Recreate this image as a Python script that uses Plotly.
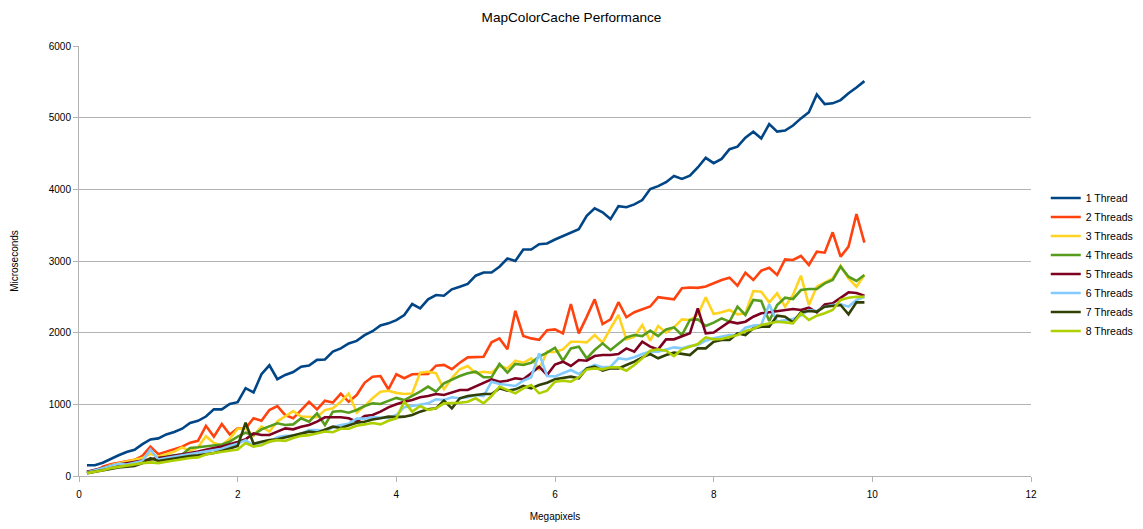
import plotly.graph_objects as go

megapixels = [0.1, 0.2, 0.3, 0.4, 0.5, 0.6, 0.7, 0.8, 0.9, 1.0,
              1.1, 1.2, 1.3, 1.4, 1.5, 1.6, 1.7, 1.8, 1.9, 2.0,
              2.1, 2.2, 2.3, 2.4, 2.5, 2.6, 2.7, 2.8, 2.9, 3.0,
              3.1, 3.2, 3.3, 3.4, 3.5, 3.6, 3.7, 3.8, 3.9, 4.0,
              4.1, 4.2, 4.3, 4.4, 4.5, 4.6, 4.7, 4.8, 4.9, 5.0,
              5.1, 5.2, 5.3, 5.4, 5.5, 5.6, 5.7, 5.8, 5.9, 6.0,
              6.1, 6.2, 6.3, 6.4, 6.5, 6.6, 6.7, 6.8, 6.9, 7.0,
              7.1, 7.2, 7.3, 7.4, 7.5, 7.6, 7.7, 7.8, 7.9, 8.0,
              8.1, 8.2, 8.3, 8.4, 8.5, 8.6, 8.7, 8.8, 8.9, 9.0,
              9.1, 9.2, 9.3, 9.4, 9.5, 9.6, 9.7, 9.8, 9.9]

t1 = [150, 150, 185, 240, 290, 335, 365, 445, 510, 525,
      580, 615, 660, 740, 770, 830, 930, 930, 1005, 1030,
      1225, 1165, 1420, 1545, 1350, 1410, 1450, 1525, 1540, 1620,
      1625, 1735, 1780, 1850, 1885, 1965, 2020, 2100, 2130, 2175,
      2245, 2400, 2340, 2465, 2525, 2515, 2605, 2640, 2680, 2795,
      2840, 2840, 2920, 3035, 3000, 3160, 3160, 3235, 3245, 3300,
      3350, 3395, 3445, 3630, 3735, 3680, 3585, 3765, 3750, 3790,
      3850, 4005, 4045, 4100, 4185, 4145, 4190, 4305, 4440, 4365,
      4425, 4560, 4595, 4720, 4805, 4710, 4910, 4805, 4820, 4890,
      4990, 5075, 5325, 5190, 5200, 5245, 5340, 5420, 5510]

t2 = [60, 60, 130, 165, 185, 200, 225, 280, 410, 305,
      340, 365, 410, 465, 490, 700, 550, 725, 580, 665,
      665, 805, 770, 920, 975, 850, 805, 920, 1035, 930,
      1050, 1025, 1150, 1035, 1130, 1300, 1385, 1395, 1210, 1420,
      1365, 1420, 1425, 1425, 1540, 1550, 1490, 1580, 1655, 1665,
      1665, 1865, 1920, 1770, 2305, 1955, 1920, 1900, 2035, 2045,
      1990, 2400, 1990, 2220, 2465, 2120, 2185, 2425, 2215, 2285,
      2330, 2365, 2495, 2485, 2465, 2620, 2630, 2625, 2645, 2690,
      2735, 2767, 2655, 2837, 2735, 2865, 2907, 2805, 3023, 3014,
      3070, 2944, 3130, 3116, 3400, 3060, 3200, 3656, 3256]

t3 = [50, 75, 110, 150, 175, 200, 230, 250, 310, 270,
      305, 340, 400, 350, 400, 555, 460, 430, 520, 660,
      665, 560, 690, 620, 760, 830, 905, 830, 820, 820,
      920, 945, 1035, 1150, 885, 975, 1085, 1175, 1190, 1160,
      1145, 1150, 1440, 1455, 1435, 1210, 1365, 1490, 1535, 1435,
      1455, 1440, 1535, 1500, 1610, 1580, 1640, 1490, 1735, 1730,
      1767, 1874, 1874, 1865, 1967, 1860, 2060, 2247, 1907, 1944,
      2107, 1888, 2093, 2000, 2074, 2186, 2177, 2247, 2493, 2260,
      2284, 2316, 2256, 2270, 2581, 2572, 2423, 2549, 2363, 2526,
      2795, 2386, 2642, 2702, 2758, 2935, 2758, 2642, 2805]

t4 = [40, 70, 100, 130, 150, 170, 190, 210, 240, 260,
      270, 290, 300, 390, 400, 410, 420, 440, 480, 550,
      605, 572, 651, 688, 735, 712, 720, 805, 758, 874,
      712, 898, 907, 884, 921, 977, 1014, 1005, 1051, 1090,
      1060, 1116, 1177, 1247, 1177, 1293, 1349, 1395, 1433, 1456,
      1377, 1377, 1563, 1442, 1563, 1549, 1581, 1665, 1721, 1790,
      1609, 1781, 1805, 1642, 1758, 1851, 1758, 1851, 1935, 1967,
      1953, 2028, 1953, 2046, 2074, 1967, 2177, 2186, 2093, 2140,
      2200, 2153, 2363, 2247, 2456, 2442, 2163, 2386, 2488, 2470,
      2595, 2609, 2609, 2688, 2735, 2921, 2781, 2721, 2805]

t5 = [60, 90, 120, 140, 160, 180, 200, 220, 240, 250,
      265, 280, 300, 320, 340, 370, 390, 410, 440, 475,
      512, 595, 572, 572, 619, 665, 651, 688, 712, 758,
      819, 819, 819, 805, 758, 837, 851, 898, 958, 1000,
      1037, 1060, 1098, 1116, 1144, 1130, 1163, 1200, 1200, 1247,
      1293, 1349, 1316, 1330, 1363, 1349, 1433, 1525, 1409, 1555,
      1595, 1535, 1619, 1609, 1674, 1688, 1688, 1702, 1781, 1735,
      1874, 1805, 1767, 1907, 1907, 1953, 1991, 2339, 1991, 2002,
      2084, 2153, 2130, 2153, 2223, 2270, 2284, 2302, 2316, 2330,
      2316, 2349, 2284, 2395, 2409, 2488, 2563, 2553, 2516]

t6 = [50, 80, 110, 140, 170, 160, 190, 210, 370, 230,
      250, 270, 290, 310, 330, 340, 360, 380, 420, 450,
      500, 420, 470, 470, 540, 560, 560, 590, 640, 640,
      620, 680, 710, 730, 800, 800, 820, 810, 810, 850,
      960, 977, 991, 1014, 1070, 1060, 1098, 1084, 1098, 1130,
      1116, 1316, 1284, 1270, 1256, 1330, 1377, 1712, 1395, 1390,
      1433, 1479, 1423, 1502, 1549, 1516, 1525, 1642, 1628, 1656,
      1702, 1735, 1735, 1767, 1795, 1781, 1814, 1828, 1888, 1921,
      1944, 1967, 1967, 2070, 2098, 2107, 2395, 2153, 2177, 2191,
      2237, 2316, 2302, 2363, 2386, 2395, 2363, 2456, 2502]

t7 = [40, 60, 90, 110, 120, 130, 140, 180, 250, 210,
      230, 240, 260, 280, 290, 300, 320, 350, 380, 420,
      744, 450, 479, 502, 512, 540, 558, 586, 619, 605,
      642, 688, 670, 712, 744, 758, 788, 805, 828, 822,
      828, 851, 898, 930, 944, 1051, 944, 1084, 1116, 1130,
      1144, 1144, 1223, 1191, 1209, 1256, 1223, 1270, 1302, 1349,
      1363, 1386, 1363, 1502, 1525, 1470, 1502, 1502, 1549, 1595,
      1656, 1702, 1642, 1688, 1721, 1702, 1688, 1781, 1781, 1874,
      1898, 1898, 1991, 1967, 2060, 2084, 2084, 2237, 2223, 2144,
      2284, 2302, 2293, 2363, 2377, 2386, 2256, 2423, 2423]

t8 = [40, 55, 80, 110, 130, 150, 170, 180, 190, 180,
      200, 220, 240, 250, 260, 300, 320, 340, 350, 370,
      460, 410, 430, 480, 500, 490, 530, 560, 570, 600,
      620, 610, 660, 660, 700, 720, 740, 720, 770, 805,
      1037, 898, 977, 921, 944, 1014, 1014, 1023, 1037, 1084,
      1014, 1116, 1247, 1200, 1153, 1223, 1270, 1153, 1191, 1316,
      1330, 1316, 1377, 1488, 1502, 1488, 1516, 1516, 1470, 1549,
      1642, 1749, 1767, 1749, 1674, 1767, 1805, 1842, 1935, 1907,
      1912, 1944, 1967, 2023, 2051, 2107, 2130, 2153, 2144, 2130,
      2270, 2177, 2237, 2270, 2316, 2456, 2488, 2502, 2500]

series_names = ["1 Thread", "2 Threads", "3 Threads", "4 Threads",
                "5 Threads", "6 Threads", "7 Threads", "8 Threads"]
series_values = [t1, t2, t3, t4, t5, t6, t7, t8]
colors = ["#004586", "#ff420e", "#ffd320", "#579d1c",
          "#7e0021", "#83caff", "#314004", "#aecf00"]

x_ticks = [0, 2, 4, 6, 8, 10, 12]
y_ticks = [0, 1000, 2000, 3000, 4000, 5000, 6000]

fig = go.Figure()
for name, vals, col in zip(series_names, series_values, colors):
    fig.add_trace(go.Scatter(x=megapixels, y=vals, name=name, mode="lines",
                             line=dict(color=col, width=2.6)))

# the page body keeps an 8px default margin, so the figure is sized to fit inside it
W, H = 1135, 521
font_family = "Liberation Sans, Arial, sans-serif"
fig.update_layout(
    width=W, height=H,
    margin=dict(l=71, r=112, t=38, b=53, autoexpand=False),
    paper_bgcolor="white", plot_bgcolor="white",
    font=dict(family=font_family, size=10, color="#000000"),
    title=dict(text="MapColorCache Performance", x=563.5 / W, xref="container",
               xanchor="center", y=1 - 9 / H, yref="container", yanchor="middle",
               font=dict(family=font_family, size=13.6, color="#000000")),
    showlegend=True,
    legend=dict(x=1.0155, xanchor="left", y=0.492, yanchor="middle",
                font=dict(family=font_family, size=10.5, color="#000000"),
                bgcolor="rgba(0,0,0,0)", tracegroupgap=0, borderwidth=0),
    xaxis=dict(range=[0, 12], tickvals=x_ticks, showgrid=False,
               zeroline=False, showline=True, linecolor="#b3b3b3", linewidth=1,
               ticks="outside", ticklen=5, tickcolor="#b3b3b3", automargin=False,
               ticklabelstandoff=4,
               title=dict(text="Megapixels", font=dict(size=10), standoff=13),
               tickfont=dict(size=10)),
    yaxis=dict(range=[0, 6000], tickvals=y_ticks, showgrid=True,
               gridcolor="#b3b3b3", gridwidth=1, zeroline=False,
               showline=True, linecolor="#b3b3b3", linewidth=1,
               ticks="outside", ticklen=5, tickcolor="#b3b3b3", automargin=False,
               title=dict(text="Microseconds", font=dict(size=10), standoff=28),
               tickfont=dict(size=10)),
)

fig.write_html("out.html")
